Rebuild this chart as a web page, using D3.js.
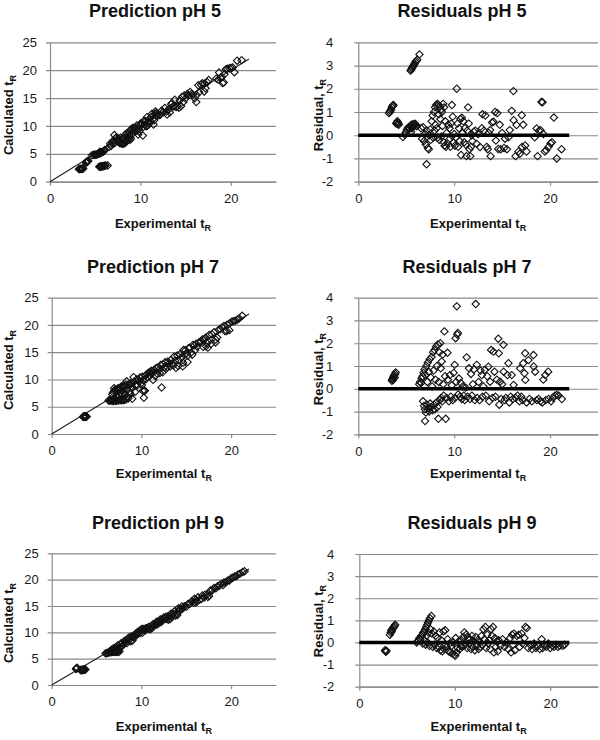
<!DOCTYPE html>
<html><head><meta charset="utf-8">
<script src="https://cdn.jsdelivr.net/npm/d3@7"></script>
<style>
body{margin:0;background:#fff;}
svg{display:block;font-family:"Liberation Sans",Arial,sans-serif;}
</style>
</head><body>
<svg id="chart" width="600" height="740"></svg>
<script>
// ---------- DATA ----------
const phLabels = ["pH 5", "pH 7", "pH 9"];
const xTicks = [0, 10, 20];
const predTicks = [0, 5, 10, 15, 20, 25];
const residTicks = [-2, -1, 0, 1, 2, 3, 4];
const fitLineEnd = 22;

// [experimental tR, residual tR]  (residual = experimental - calculated)
const ph5 = [
[3.20,0.95],[3.28,1.00],[3.35,1.05],[3.42,1.12],[3.50,1.20],[3.56,1.25],[3.62,1.28],[3.66,1.30],
[3.95,0.50],[4.02,0.55],[4.08,0.60],[4.12,0.48],[4.18,0.52],[4.22,0.45],
[4.65,-0.08],[4.85,0.02],[4.95,0.12],[5.05,0.22],[5.15,0.30],[5.25,0.35],[5.35,0.28],[5.45,0.40],[5.55,0.45],
[5.65,0.35],[5.72,0.48],[5.80,0.42],[5.90,0.50],[6.00,0.45],[5.50,0.15],[5.60,0.30],[6.08,0.38],
[5.45,2.78],[5.52,2.82],[5.58,2.88],[5.65,2.92],[5.72,2.98],[5.80,3.02],[5.88,3.08],[5.95,3.15],[6.05,3.20],[6.15,3.25],[6.38,3.48],
[6.55,0.30],[6.65,-0.15],[6.75,0.35],[6.85,-0.25],[6.95,0.05],[7.05,-0.40],[7.12,-1.25],[7.15,0.20],[7.25,-0.55],[7.35,-0.60],
[7.40,0.00],[7.50,0.25],[7.55,-0.20],[7.65,0.60],[7.75,0.85],[7.80,-0.10],[7.90,1.00],[7.95,0.20],[8.00,1.20],[8.05,0.45],
[8.12,1.30],[8.18,0.30],[8.25,1.35],[8.30,-0.10],[8.35,1.30],[8.40,0.90],[8.45,-0.20],[8.50,1.25],[8.55,0.70],[8.62,1.10],
[8.68,-0.05],[8.72,1.00],[8.78,0.40],[8.85,1.35],[8.90,-0.30],[8.95,1.20],[9.00,-0.45],[9.08,0.60],[9.15,-0.50],[9.22,0.10],
[9.30,-0.35],[9.38,0.45],[9.45,-0.20],[9.52,0.30],[9.60,-0.50],[9.68,0.50],[9.76,1.30],[9.85,0.80],[9.92,-0.30],[10.00,0.05],
[10.08,-0.45],[10.15,-0.10],[10.27,2.00],[10.35,0.50],[10.42,-0.50],[10.50,0.30],[10.58,-0.25],[10.65,0.70],[10.72,-0.85],
[10.80,0.75],[10.88,0.10],[10.95,0.60],[11.05,-0.30],[11.12,0.30],[11.20,-0.40],[11.28,-0.90],[11.35,0.20],[11.45,1.20],
[11.52,0.50],[11.60,-0.60],[11.68,-0.90],[11.75,-0.50],[11.82,0.00],[11.90,-0.25],
[12.05,0.15],[12.20,0.20],[12.35,-0.37],[12.50,0.05],[12.70,-0.51],[12.88,0.30],[12.95,0.90],[13.10,0.20],[13.25,0.85],
[13.40,-0.50],[13.50,-0.60],[13.60,0.10],[13.75,0.22],[13.80,-0.90],[13.95,0.55],[14.10,0.58],[14.27,1.00],[14.35,-0.23],
[14.50,0.95],[14.60,-0.59],[14.75,0.45],[14.85,-0.60],[15.00,0.10],[15.20,-0.55],[15.30,-0.15],[15.50,-0.60],[15.66,-0.09],
[15.80,0.22],[16.00,1.05],[16.18,1.90],[16.20,0.65],[16.40,-0.90],[16.50,0.44],[16.70,-0.70],[16.85,-0.80],[17.05,0.86],
[17.08,-0.50],[17.20,0.45],[17.40,-0.44],[17.55,-0.70],[18.40,-0.09],[18.60,0.29],[18.70,-0.90],[18.85,0.20],[19.00,0.22],
[19.10,1.43],[19.22,1.42],[19.30,0.05],[19.45,-0.70],[19.60,-0.65],[19.85,-0.50],[20.05,-0.35],[20.20,-0.30],[20.40,0.76],
[20.70,-1.00],[21.20,-0.60]
];

const ph7 = [
[3.50,0.35],[3.55,0.40],[3.60,0.45],[3.65,0.50],[3.70,0.55],[3.75,0.60],[3.80,0.50],[3.85,0.65],[3.90,0.72],[3.62,0.38],
[6.35,0.20],[6.45,0.30],[6.55,0.25],[6.60,0.45],[6.70,0.55],[6.75,-0.55],[6.80,0.70],[6.85,-0.75],[6.90,0.85],[6.95,-0.90],
[6.96,-1.42],[7.00,0.60],[7.05,-1.05],[7.10,1.00],[7.15,-0.70],[7.20,0.30],[7.25,1.15],[7.30,-0.85],[7.35,0.75],[7.40,-1.00],
[7.45,1.30],[7.50,-0.65],[7.55,0.50],[7.60,-0.80],[7.65,1.40],[7.70,0.10],[7.75,-0.95],[7.80,1.60],[7.85,0.80],[7.90,-0.70],
[7.95,1.70],[8.00,-0.90],[8.05,0.40],[8.10,1.85],[8.15,-0.60],[8.20,1.00],[8.25,-0.80],[8.30,1.95],[8.35,-1.32],[8.40,0.30],
[8.45,1.60],[8.50,-0.50],[8.55,2.00],[8.60,0.90],[8.65,-0.40],[8.70,1.20],[8.75,-0.55],[8.80,1.50],[8.85,0.20],[8.90,-0.30],
[8.98,2.52],[9.05,0.55],[9.12,-1.32],[9.20,-0.40],[9.30,1.58],[9.35,0.40],[9.45,-0.55],[9.55,0.60],[9.65,-0.35],[9.75,0.15],
[9.85,-0.50],[9.95,0.70],[10.05,1.05],[10.10,-0.40],[10.15,2.22],[10.20,0.30],[10.27,3.62],[10.32,2.38],[10.38,2.45],[10.42,-0.25],
[10.50,0.45],[10.60,-0.35],[10.70,0.25],[10.80,-0.45],[10.90,0.10],[11.00,-0.30],[11.10,-0.50],[11.20,0.05],[11.30,1.38],
[11.40,-0.35],[11.55,0.90],[11.65,-0.45],[11.75,0.65],[11.85,-0.30],[11.95,0.20],[12.05,0.85],[12.15,-0.50],[12.25,3.72],
[12.36,1.05],[12.40,-0.40],[12.55,0.30],[12.65,-0.50],[12.75,0.80],[12.88,0.60],[12.95,-0.35],[13.05,0.10],[13.20,0.83],
[13.30,-0.30],[13.45,0.55],[13.57,0.97],[13.65,-0.55],[13.75,0.31],[13.85,1.70],[14.00,-0.40],[14.10,1.63],[14.20,0.75],
[14.30,-0.35],[14.45,0.40],[14.60,2.20],[14.65,1.56],[14.70,-0.70],[14.79,0.31],[14.90,-0.45],[15.00,0.20],[15.14,1.93],
[15.16,0.75],[15.25,-0.50],[15.40,-0.40],[15.55,0.60],[15.66,1.12],[15.75,-0.60],[15.90,-0.35],[16.00,0.60],[16.10,-0.45],
[16.20,0.17],[16.40,-0.40],[16.60,-0.30],[16.80,-0.55],[16.88,0.90],[17.00,-0.35],[17.15,-0.50],[17.20,1.12],[17.33,0.68],
[17.40,1.56],[17.42,0.39],[17.55,-0.60],[17.75,1.26],[17.85,-0.45],[18.10,-0.55],[18.27,1.48],[18.29,0.98],[18.44,0.75],
[18.60,-0.50],[18.80,-0.45],[19.00,-0.55],[19.20,-0.60],[19.30,0.40],[19.50,0.60],[19.55,-0.50],[19.80,0.75],[19.85,-0.45],
[20.10,-0.55],[20.30,-0.40],[20.50,-0.30],[20.70,-0.27],[20.90,-0.30],[21.23,-0.45]
];

const ph9 = [
[2.70,-0.35],[2.75,-0.40],[2.80,-0.42],[2.85,-0.38],
[3.20,0.35],[3.30,0.45],[3.35,0.55],[3.45,0.60],[3.55,0.65],[3.60,0.70],[3.70,0.75],[3.75,0.80],[3.40,0.50],
[6.00,0.00],[6.10,0.05],[6.20,0.10],[6.30,0.20],[6.40,0.15],[6.50,0.30],[6.60,0.35],[6.65,-0.05],[6.70,0.45],[6.80,0.50],
[6.85,0.10],[6.90,0.60],[6.95,-0.10],[7.00,0.70],[7.05,0.30],[7.10,0.80],[7.15,0.00],[7.20,0.90],[7.25,0.45],[7.30,1.00],
[7.35,-0.15],[7.40,1.10],[7.45,0.60],[7.55,1.20],[7.60,0.40],[7.70,-0.20],[7.80,0.50],[7.90,-0.10],[8.00,0.30],[8.10,-0.25],
[8.20,0.20],[8.30,-0.20],[8.40,0.45],[8.50,-0.35],[8.60,0.10],[8.70,-0.40],[8.80,0.50],[8.90,-0.30],[9.00,0.55],[9.05,-0.10],
[9.15,-0.20],[9.25,0.15],[9.35,-0.40],[9.45,-0.05],[9.55,-0.45],[9.65,-0.15],[9.75,-0.50],[9.85,0.00],[9.95,-0.55],[10.05,-0.60],
[10.10,0.20],[10.20,-0.45],[10.30,-0.25],[10.40,0.05],[10.50,-0.30],[10.60,-0.15],[10.70,0.10],[10.80,-0.20],[10.90,0.25],
[11.00,0.45],[11.10,-0.10],[11.20,0.35],[11.30,-0.25],[11.40,0.20],[11.50,-0.05],[11.60,0.15],[11.70,-0.30],[11.80,0.30],
[11.90,-0.20],[12.00,0.05],[12.10,-0.35],[12.20,0.25],[12.30,-0.15],[12.40,0.10],[12.50,-0.30],[12.60,0.00],[12.70,-0.20],
[12.80,0.30],[12.90,-0.10],[13.00,0.60],[13.10,0.15],[13.20,0.70],[13.30,-0.25],[13.40,0.35],[13.50,-0.05],[13.60,0.10],
[13.70,-0.30],[13.80,0.60],[13.90,0.30],[14.00,0.70],[14.10,-0.45],[14.20,0.20],[14.30,-0.20],[14.40,0.05],[14.50,-0.40],
[14.60,0.10],[14.80,-0.15],[15.00,0.15],[15.20,-0.20],[15.40,0.00],[15.60,-0.30],[15.80,0.20],[15.90,-0.45],[16.00,0.35],
[16.10,-0.10],[16.20,0.40],[16.30,-0.35],[16.50,0.30],[16.70,0.35],[16.80,-0.20],[17.00,0.40],[17.10,-0.05],[17.30,0.20],
[17.40,0.70],[17.55,0.65],[17.70,-0.25],[17.90,-0.10],[18.10,-0.30],[18.30,-0.05],[18.50,-0.25],[18.70,-0.15],[18.90,-0.30],
[19.10,0.15],[19.20,-0.25],[19.40,-0.10],[19.60,-0.20],[19.80,-0.05],[20.00,-0.25],[20.20,-0.15],[20.40,-0.20],[20.60,-0.10],
[20.80,-0.20],[21.00,-0.15],[21.30,-0.15],[21.50,-0.10]
];
const datasets = [ph5, ph7, ph9];

// ---------- LAYOUT ----------
const rows = [
  { pred:{l:50,  r:276, t:42.3,  b:181.7}, res:{l:358.3, r:598, t:42.3,  b:181.7},
    titleY:17, predTitleX:155, resTitleX:462, xTitleY:228, predYT:115, resYT:115 },
  { pred:{l:51.7,r:276, t:297.7, b:434},   res:{l:358.3, r:598, t:297.7, b:434.3},
    titleY:273, predTitleX:153, resTitleX:467, xTitleY:478, predYT:370, resYT:369 },
  { pred:{l:51.7,r:276, t:553.3, b:685},   res:{l:359.3, r:598, t:554,   b:686.7},
    titleY:529, predTitleX:158, resTitleX:472, xTitleY:731, predYT:623, resYT:621 }
];

const svg = d3.select("#chart");
const gridColor = "#8a8a8a";
const diamond = d3.symbol().type(d3.symbolSquare).size(27);
const fmt = d => String(d);

function panel(box, yDomain, yTicks, yPad, title, titleX, titleY, xTitleY, yTitle, yTitleX, yTitleY) {
  const x = d3.scaleLinear().domain([0, 25]).range([box.l, box.r]);
  const y = d3.scaleLinear().domain(yDomain).range([box.b, box.t]);
  const g = svg.append("g");

  // gridlines + y axis
  const yAxis = g.append("g").attr("transform", `translate(${box.l},0)`)
    .call(d3.axisLeft(y).tickValues(yTicks).tickFormat(fmt).tickSize(4).tickPadding(yPad).tickSizeOuter(0));
  yAxis.select(".domain").attr("stroke", gridColor).attr("stroke-width", 1.2);
  yAxis.selectAll(".tick line").attr("stroke", gridColor).attr("stroke-width", 1.2)
    .attr("x1", -4).attr("x2", box.r - box.l);
  yAxis.selectAll(".tick text").attr("fill", "#1a1a1a").style("font-size", "13px");

  // x axis at bottom
  const xAxis = g.append("g").attr("transform", `translate(0,${box.b})`)
    .call(d3.axisBottom(x).tickValues(xTicks).tickFormat(fmt).tickSize(4).tickPadding(8).tickSizeOuter(0));
  xAxis.select(".domain").attr("stroke", gridColor).attr("stroke-width", 1.2);
  xAxis.selectAll(".tick line").attr("stroke", gridColor).attr("stroke-width", 1.2);
  xAxis.selectAll(".tick text").attr("fill", "#1a1a1a").style("font-size", "13px");

  // title
  g.append("text").attr("x", titleX).attr("y", titleY).attr("text-anchor", "middle")
    .style("font-size", "18px").style("font-weight", "bold").attr("fill", "#111").text(title);

  // x title
  const xt = g.append("text").attr("x", (box.l + box.r) / 2).attr("y", xTitleY)
    .attr("text-anchor", "middle").style("font-size", "13px").style("font-weight", "bold").attr("fill", "#111");
  xt.append("tspan").text("Experimental t");
  xt.append("tspan").attr("dy", 3).style("font-size", "9px").text("R");

  // y title
  const yt = g.append("text").attr("transform", `translate(${yTitleX},${yTitleY}) rotate(-90)`)
    .attr("text-anchor", "middle").style("font-size", "13px").style("font-weight", "bold").attr("fill", "#111");
  yt.append("tspan").text(yTitle);
  yt.append("tspan").attr("dy", 3).style("font-size", "9px").text("R");

  return {g, x, y};
}

datasets.forEach((data, i) => {
  const row = rows[i];
  // Prediction panel
  const p = panel(row.pred, [0, 25], predTicks, 9, "Prediction " + phLabels[i],
    row.predTitleX, row.titleY, row.xTitleY, "Calculated t", 13, row.predYT);
  p.g.append("line")
    .attr("x1", p.x(0)).attr("y1", p.y(0)).attr("x2", p.x(fitLineEnd)).attr("y2", p.y(fitLineEnd))
    .attr("stroke", "#222").attr("stroke-width", 1.2);
  p.g.append("g").selectAll("path").data(data).join("path")
    .attr("d", diamond)
    .attr("transform", d => `translate(${p.x(d[0])},${p.y(d[0] - d[1])}) rotate(45)`)
    .attr("fill", "none").attr("stroke", "#111").attr("stroke-width", 1.1);

  // Residual panel
  const r = panel(row.res, [-2, 4], residTicks, 21, "Residuals " + phLabels[i],
    row.resTitleX, row.titleY, row.xTitleY, "Residual, t", 323, row.resYT);
  r.g.append("line")
    .attr("x1", r.x(0)).attr("y1", r.y(0)).attr("x2", r.x(fitLineEnd)).attr("y2", r.y(0))
    .attr("stroke", "#000").attr("stroke-width", 3.5);
  r.g.append("g").selectAll("path").data(data).join("path")
    .attr("d", diamond)
    .attr("transform", d => `translate(${r.x(d[0])},${r.y(d[1])}) rotate(45)`)
    .attr("fill", "none").attr("stroke", "#111").attr("stroke-width", 1.1);
});
</script>
</body></html>
